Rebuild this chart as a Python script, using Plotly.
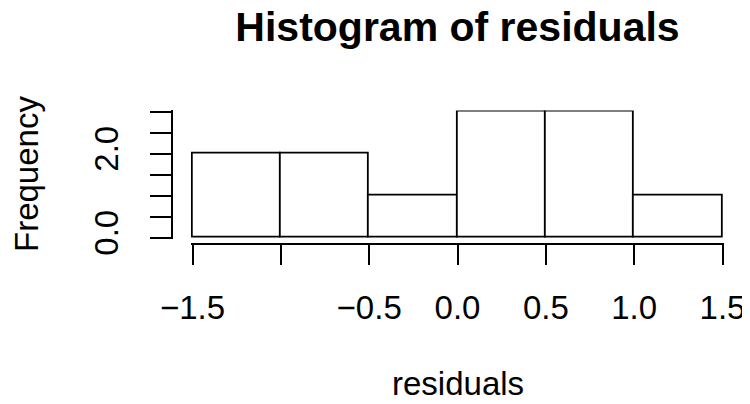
import plotly.graph_objects as go

# Data: histogram of residuals (bin edges and counts)
bin_edges = [-1.5, -1.0, -0.5, 0.0, 0.5, 1.0, 1.5]
counts = [2, 2, 1, 3, 3, 1]

x_tickvals = [-1.5, -1.0, -0.5, 0.0, 0.5, 1.0, 1.5]
x_ticktext = ["\u22121.5", "", "\u22120.5", "0.0", "0.5", "1.0", "1.5"]
y_tickvals = [0, 0.5, 1.0, 1.5, 2.0, 2.5, 3.0]
y_ticktext = ["0.0", "", "", "", "2.0", "", ""]

centers = [(a + b) / 2 for a, b in zip(bin_edges[:-1], bin_edges[1:])]
widths = [b - a for a, b in zip(bin_edges[:-1], bin_edges[1:])]

# the page body has an 8px default margin; size the figure to fill the rest
OFF = 8
W, H = 750 - OFF, 404 - OFF
FONT = "Liberation Sans, Arial, Helvetica, sans-serif"
LW = 1.8


def px(x):
    return (x - OFF) / W


def py(y):
    return 1 - (y - OFF) / H


# pixel geometry (window coordinates)
x0_px, x1_px = 192.5, 722.5   # -1.5 .. 1.5
y0_px, y3_px = 237.7, 111.7   # 0 .. 3
pad_x = 0.01
pad_y = 0.03
ppu_x = (x1_px - x0_px) / 3.0
ppu_y = (y0_px - y3_px) / 3.0

xdom = [px(x0_px - pad_x * ppu_x), px(x1_px + pad_x * ppu_x)]
ydom = [py(y0_px + pad_y * ppu_y), py(y3_px - pad_y * ppu_y)]

fig = go.Figure()
fig.add_trace(go.Bar(
    x=centers, y=counts, width=widths,
    marker=dict(color="white", line=dict(color="black", width=LW)),
    showlegend=False, hoverinfo="skip",
))

fig.update_layout(
    width=W, height=H, autosize=False,
    margin=dict(l=0, r=0, t=0, b=0, pad=0, autoexpand=False),
    paper_bgcolor="white", plot_bgcolor="white",
    font=dict(family=FONT, color="black"),
    bargap=0, showlegend=False,
    title=dict(text="<b>Histogram of residuals</b>", x=px(457.5), xanchor="center",
               y=py(27), yanchor="middle", automargin=False,
               font=dict(size=41, family=FONT, color="black")),
    xaxis=dict(
        domain=xdom, range=[-1.5 - pad_x, 1.5 + pad_x],
        anchor="free", position=py(244), automargin=False,
        showgrid=False, zeroline=False,
        showline=True, linecolor="black", linewidth=LW,
        ticks="outside", ticklen=20, tickwidth=LW, tickcolor="black",
        tickvals=x_tickvals, ticktext=x_ticktext,
        tickfont=dict(size=33, family=FONT, color="black"),
        ticklabelstandoff=14,
    ),
    yaxis=dict(
        domain=ydom, range=[-pad_y, 3 + pad_y],
        anchor="free", position=px(171.7), automargin=False,
        showgrid=False, zeroline=False,
        showline=True, linecolor="black", linewidth=LW,
        ticks="outside", ticklen=21, tickwidth=LW, tickcolor="black",
        tickvals=y_tickvals, ticktext=y_ticktext, tickangle=-90,
        tickfont=dict(size=33, family=FONT, color="black"),
        ticklabelstandoff=19,
    ),
    annotations=[
        dict(text="Frequency", textangle=-90, x=px(27), y=py(174),
             xref="paper", yref="paper", xanchor="center", yanchor="middle",
             showarrow=False, font=dict(size=33, family=FONT, color="black")),
        dict(text="residuals", x=px(457.5), y=py(383),
             xref="paper", yref="paper", xanchor="center", yanchor="middle",
             showarrow=False, font=dict(size=33, family=FONT, color="black")),
    ],
)

fig.write_html("out.html")
